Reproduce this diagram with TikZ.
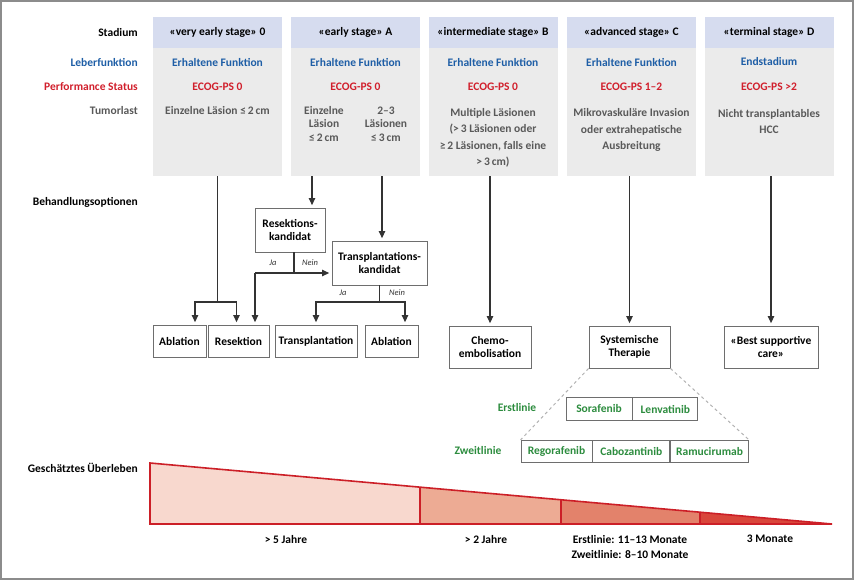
\documentclass[tikz,border=0pt]{standalone}
\usepackage{fontspec}
\setmainfont{Carlito}
\usetikzlibrary{positioning,arrows.meta}
\definecolor{bandblue}{HTML}{D6DCEF}
\definecolor{boxgray}{HTML}{EBEBEB}
\definecolor{leberblue}{HTML}{1E5EA6}
\definecolor{ecogred}{HTML}{D11F2C}
\definecolor{tumgray}{HTML}{595959}
\definecolor{linegreen}{HTML}{2C8C3E}
\definecolor{survred}{HTML}{CC1F27}
\definecolor{survA}{HTML}{F8D8CE}
\definecolor{survB}{HTML}{EDAB94}
\definecolor{survC}{HTML}{E3826B}
\definecolor{survD}{HTML}{D9463B}
\definecolor{framegray}{HTML}{8C8C8C}
\definecolor{connline}{HTML}{333333}
\definecolor{boxedge}{HTML}{6E6E6E}
\tikzset{
  every node/.style={font=\bfseries\fontsize{11.5}{12.5}\selectfont, inner sep=1pt},
  colbox/.style={fill=boxgray, minimum width=129, minimum height=159, inner sep=0pt},
  stagebox/.style={fill=bandblue, minimum width=129, minimum height=31, inner sep=0pt},
  rowlabel/.style={anchor=east},
  tumtext/.style={tumgray, align=center, font=\bfseries\fontsize{11.5}{16.5}\selectfont},
  treatbox/.style={draw=boxedge, fill=white, line width=0.8pt, align=center, inner sep=2pt},
  drugbox/.style={treatbox, text=linegreen, minimum height=22.5},
  janein/.style={font=\itshape\fontsize{8.5}{10}\selectfont, text=connline},
  conn/.style={draw=connline, line width=1.2pt},
  arr/.style={conn, -{Triangle[length=7pt,width=6.5pt]}, shorten >=2.5pt},
  dashline/.style={draw=black!30, line width=1pt, dashed},
  survlabel/.style={align=center, font=\bfseries\fontsize{11.5}{15}\selectfont}
}
\begin{document}
\begin{tikzpicture}[x=1pt,y=-1pt]
  \useasboundingbox (0,0) rectangle (854,581);
  \draw[framegray, line width=1.5pt] (1,1) rectangle (853,579);

  % stage columns
  \foreach \i/\cx/\stage in {0/217.5/{«very early stage» 0},
    1/355.5/{«early stage» A}, 2/493/{«intermediate stage» B},
    3/631.5/{«advanced stage» C}, 4/769/{«terminal stage» D}} {
    \node[colbox] (col\i) at (\cx,96.5) {};
    \node[stagebox] (stage\i) at (\cx,32.5) {\stage};
  }
  \foreach \i/\texn in {0/Erhaltene Funktion, 1/Erhaltene Funktion,
    2/Erhaltene Funktion, 3/Erhaltene Funktion, 4/Endstadium}
    \node[leberblue] (leber\i) at (col\i |- 0,62) {\texn};
  \foreach \i/\texn in {0/ECOG-PS 0, 1/ECOG-PS 0, 2/ECOG-PS 0,
    3/ECOG-PS 1–2, 4/ECOG-PS >2}
    \node[ecogred] (ecog\i) at (col\i |- 0,87) {\texn};

  % tumorlast
  \node[tumtext] (tum0) at (col0 |- 0,111) {Einzelne Läsion ≤\,2\,cm};
  \node[tumtext, font=\bfseries\fontsize{11.5}{13.5}\selectfont] (tumA) at (324,124) {Einzelne\\Läsion\\≤\,2\,cm};
  \node[tumtext, font=\bfseries\fontsize{11.5}{13.5}\selectfont] (tumB) at (386,124) {2–3\\Läsionen\\≤\,3\,cm};
  \node[tumtext] (tum2) at (col2 |- 0,138) {Multiple Läsionen\\(>\,3 Läsionen oder\\≥\,2 Läsionen, falls eine\\>\,3\,cm)};
  \node[tumtext] (tum3) at (col3 |- 0,130) {Mikrovaskuläre Invasion\\oder extrahepatische\\Ausbreitung};
  \node[tumtext] (tum4) at (col4 |- 0,121.5) {Nicht transplantables\\HCC};

  % row labels
  \node[rowlabel] (lblstadium) at (139,33) {Stadium};
  \node[rowlabel, leberblue] (lblleber) at (139,62) {Leberfunktion};
  \node[rowlabel, ecogred] (lblecog) at (139,87) {Performance Status};
  \node[rowlabel, tumgray] (lbltum) at (139,111) {Tumorlast};
  \node[rowlabel] (lblbehand) at (139,202) {Behandlungsoptionen};
  \node[rowlabel] (lblsurv) at (139,468) {Geschätztes Überleben};

  % treatment boxes
  \node[treatbox, minimum width=70, minimum height=44] (reskand) at (290,230) {Resektions-\\kandidat};
  \node[treatbox, minimum width=95, minimum height=44] (transkand) at (379.5,263) {Transplantations-\\kandidat};
  \node[treatbox, minimum width=53, minimum height=32] (ablation1) at (179.5,341) {Ablation};
  \node[treatbox, minimum width=61, minimum height=32] (resektion) at (238.5,341) {Resektion};
  \node[treatbox, minimum width=82, minimum height=32] (transplant) at (316,341) {Transplantation};
  \node[treatbox, minimum width=53, minimum height=32] (ablation2) at (391.5,341) {Ablation};
  \node[treatbox, minimum width=82, minimum height=42] (chemo) at (490,347) {Chemo-\\embolisation};
  \node[treatbox, minimum width=81, minimum height=42] (systemic) at (629.5,347) {Systemische\\Therapie};
  \node[treatbox, minimum width=94, minimum height=42] (bsc) at (771,347) {«Best supportive\\care»};

  % drugs
  \node[drugbox, minimum width=66] (sora) at (599,409) {Sorafenib};
  \node[drugbox, minimum width=65, right=0pt of sora] (lenva) {Lenvatinib};
  \node[drugbox, minimum width=71] (rego) at (556.5,451.5) {Regorafenib};
  \node[drugbox, minimum width=77, right=0pt of rego] (cabo) {Cabozantinib};
  \node[drugbox, minimum width=78, right=0pt of cabo] (ramu) {Ramucirumab};
  \node[linegreen] (erst) at (517,408) {Erstlinie};
  \node[linegreen] (zweit) at (478,451) {Zweitlinie};
  \draw[dashline] (systemic.south west) -- (rego.north west)
    (systemic.south east) -- (ramu.north east);

  % connectors
  \coordinate (split0) at (col0.south |- 0,302);
  \draw[conn] (col0.south) -- (split0);
  \draw[arr] (split0) -| ([xshift=15.5pt]ablation1.north);
  \draw[arr] (split0) -| ([xshift=-2pt]resektion.north);
  \draw[arr] (col1.south -| 312,0) -- (reskand.north -| 312,0);
  \draw[arr] (col1.south -| 382,0) -- (transkand.north -| 382,0);
  \coordinate (splitA) at (294,273);
  \draw[conn] (reskand.south -| splitA) -- (splitA);
  \draw[arr] (255,273) -- (transkand.west |- splitA);
  \draw[arr] (255,273) -- ([xshift=16.5pt]resektion.north);
  \node[janein] (jaA) at (273,263) {Ja};
  \node[janein] (neinA) at (310,263) {Nein};
  \coordinate (splitB) at (transkand.south |- 0,302);
  \draw[conn] (transkand.south) -- (splitB);
  \draw[arr] (splitB) -| (transplant.north);
  \draw[arr] (splitB) -| ([xshift=13.5pt]ablation2.north);
  \node[janein] (jaB) at (343,293) {Ja};
  \node[janein] (neinB) at (397,293) {Nein};
  \draw[arr] (col2.south -| chemo.north) -- (chemo.north);
  \draw[arr] (col3.south -| systemic.north) -- (systemic.north);
  \draw[arr] (col4.south -| bsc.north) -- (bsc.north);

  % survival wedge
  \foreach \xa/\xb/\col in {150/420/survA, 420/561/survB,
    561/700/survC, 700/832/survD}
    \fill[\col] (\xa,{463+(\xa-150)/682*61}) -- (\xb,{463+(\xb-150)/682*61})
      -- (\xb,524) -- (\xa,524) -- cycle;
  \foreach \xd in {420,561,700}
    \draw[survred, line width=1.2pt] (\xd,{463+(\xd-150)/682*61}) -- (\xd,524);
  \draw[survred, line width=1.6pt, line join=miter] (150,463) -- (832,524) -- (150,524) -- cycle;
  \node[survlabel] (surv5) at (286,539) {> 5 Jahre};
  \node[survlabel] (surv2) at (486,539) {> 2 Jahre};
  \node[survlabel] (survsys) at (630,546.5) {Erstlinie: 11–13 Monate\\Zweitlinie: 8–10 Monate};
  \node[survlabel] (surv3) at (770,539) {3 Monate};
\end{tikzpicture}
\end{document}
